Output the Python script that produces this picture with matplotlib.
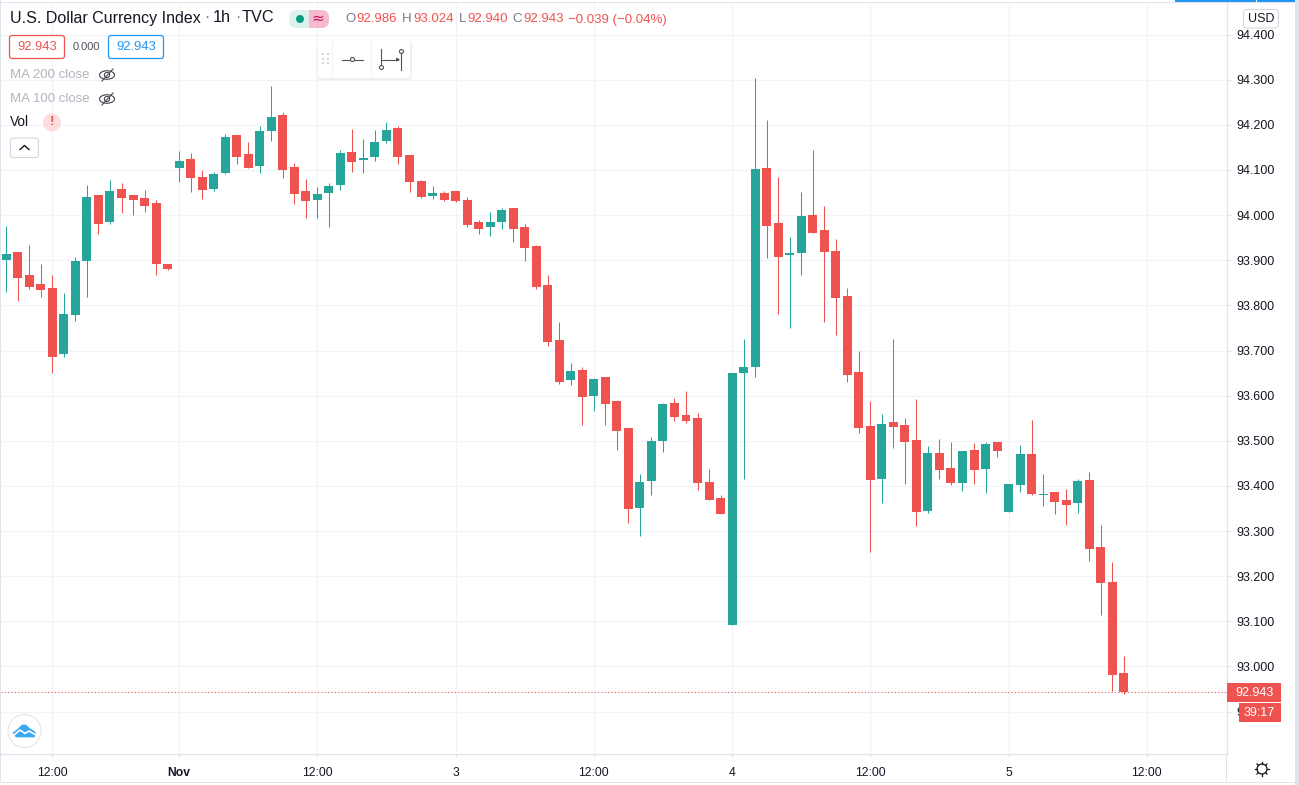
import matplotlib
matplotlib.use('Agg')
import matplotlib.pyplot as plt
from matplotlib.patches import Rectangle, FancyBboxPatch, Circle, Ellipse, Polygon

plt.rcParams['font.family'] = ['Liberation Sans', 'DejaVu Sans']

#%%
# hourly candles
opens = [93.900, 93.918, 93.867, 93.847, 93.838, 93.692, 93.778, 93.898, 94.044, 93.984,
         94.057, 94.044, 94.037, 94.026, 93.891, 94.104, 94.124, 94.084, 94.057, 94.093,
         94.177, 94.135, 94.108, 94.186, 94.222, 94.106, 94.053, 94.033, 94.048, 94.066,
         94.140, 94.122, 94.128, 94.164, 94.193, 94.133, 94.075, 94.042, 94.048, 94.053,
         94.033, 93.984, 93.973, 93.984, 94.015, 93.973, 93.931, 93.845, 93.723, 93.634,
         93.656, 93.599, 93.641, 93.588, 93.528, 93.351, 93.410, 93.499, 93.583, 93.557,
         93.550, 93.408, 93.373, 93.091, 93.650, 93.663, 94.104, 93.982, 93.911, 93.916,
         94.000, 93.967, 93.920, 93.820, 93.652, 93.532, 93.415, 93.541, 93.535, 93.501,
         93.344, 93.473, 93.439, 93.406, 93.479, 93.437, 93.497, 93.342, 93.402, 93.470,
         93.380, 93.386, 93.368, 93.362, 93.413, 93.264, 93.187, 92.986]
highs = [93.975, 93.918, 93.933, 93.891, 93.867, 93.827, 93.907, 94.066, 94.044, 94.077,
         94.071, 94.044, 94.055, 94.033, 93.891, 94.142, 94.137, 94.100, 94.095, 94.180,
         94.177, 94.162, 94.197, 94.286, 94.228, 94.115, 94.080, 94.062, 94.071, 94.144,
         94.191, 94.168, 94.188, 94.206, 94.197, 94.133, 94.077, 94.064, 94.053, 94.053,
         94.040, 93.989, 94.006, 94.015, 94.015, 93.980, 93.933, 93.867, 93.763, 93.672,
         93.663, 93.639, 93.641, 93.590, 93.528, 93.426, 93.508, 93.583, 93.594, 93.610,
         93.561, 93.437, 93.379, 93.650, 93.725, 94.304, 94.210, 94.084, 93.951, 94.051,
         94.144, 94.020, 93.947, 93.838, 93.698, 93.588, 93.559, 93.725, 93.550, 93.592,
         93.488, 93.504, 93.497, 93.477, 93.495, 93.497, 93.497, 93.404, 93.490, 93.546,
         93.426, 93.386, 93.393, 93.415, 93.430, 93.313, 93.231, 93.024]
lows = [93.829, 93.809, 93.836, 93.818, 93.650, 93.685, 93.765, 93.818, 93.958, 93.980,
        94.004, 94.000, 94.006, 93.867, 93.878, 94.073, 94.051, 94.035, 94.053, 94.091,
        94.113, 94.104, 94.093, 94.164, 94.082, 94.024, 93.993, 93.993, 93.973, 94.055,
        94.095, 94.093, 94.120, 94.160, 94.113, 94.051, 94.037, 94.035, 94.031, 94.029,
        93.973, 93.958, 93.953, 93.969, 93.940, 93.898, 93.836, 93.710, 93.625, 93.623,
        93.535, 93.566, 93.535, 93.479, 93.317, 93.289, 93.379, 93.475, 93.543, 93.539,
        93.391, 93.368, 93.337, 93.091, 93.415, 93.641, 93.905, 93.780, 93.749, 93.867,
        93.960, 93.763, 93.734, 93.630, 93.517, 93.253, 93.362, 93.484, 93.404, 93.311,
        93.340, 93.415, 93.402, 93.388, 93.404, 93.384, 93.464, 93.342, 93.386, 93.379,
        93.355, 93.337, 93.313, 93.340, 93.233, 93.114, 92.945, 92.940]
closes = [93.913, 93.860, 93.840, 93.834, 93.685, 93.780, 93.898, 94.040, 93.980, 94.053,
          94.037, 94.033, 94.020, 93.891, 93.880, 94.120, 94.082, 94.055, 94.091, 94.173,
          94.128, 94.104, 94.186, 94.217, 94.100, 94.046, 94.031, 94.046, 94.064, 94.137,
          94.117, 94.126, 94.162, 94.188, 94.128, 94.073, 94.040, 94.048, 94.033, 94.031,
          93.978, 93.969, 93.984, 94.011, 93.969, 93.927, 93.840, 93.718, 93.630, 93.654,
          93.596, 93.636, 93.581, 93.521, 93.348, 93.408, 93.499, 93.581, 93.552, 93.543,
          93.406, 93.368, 93.337, 93.650, 93.663, 94.102, 93.975, 93.907, 93.916, 93.998,
          93.960, 93.918, 93.816, 93.645, 93.528, 93.413, 93.537, 93.530, 93.497, 93.342,
          93.473, 93.435, 93.406, 93.477, 93.435, 93.492, 93.477, 93.404, 93.470, 93.382,
          93.382, 93.364, 93.357, 93.410, 93.260, 93.185, 92.981, 92.943]

price_ticks = [92.9, 93.0, 93.1, 93.2, 93.3, 93.4, 93.5, 93.6, 93.7, 93.8, 93.9, 94.0, 94.1, 94.2, 94.3, 94.4]
time_ticks = [4, 15, 27, 39, 51, 63, 75, 87, 99]
time_labels = ['12:00', 'Nov', '12:00', '3', '12:00', '4', '12:00', '5', '12:00']

UP = '#26A69A'
DOWN = '#EF5350'
GRID = '#F0F3FA'
EDGE = '#E0E3EB'
TEXT = '#131722'
FADED = '#B2B5BE'

W, H = 1299, 785
fig = plt.figure(figsize=(W / 100, H / 100), dpi=100)

#%%
'''price pane'''
ax = fig.add_axes([1 / W, (H - 754) / H, 1226 / W, 751 / H])
x = list(range(len(opens)))
colors = [UP if c >= o else DOWN for o, c in zip(opens, closes)]
ax.vlines(x, lows, highs, colors=colors, linewidth=0.75, zorder=3)
ax.bar(x, [abs(c - o) for o, c in zip(opens, closes)], bottom=[min(o, c) for o, c in zip(opens, closes)],
       width=0.78, color=colors, linewidth=0, zorder=4)
ax.axhline(closes[-1], color=DOWN, linewidth=0.8, linestyle=(0, (1, 2)), zorder=5)

ax.set_xlim(-0.46, 105.96)
ax.set_ylim(92.806, 94.470)
ax.set_yticks(price_ticks)
ax.set_yticklabels(['%.3f' % p for p in price_ticks])
ax.set_xticks(time_ticks)
ax.set_xticklabels(time_labels)
ax.get_xticklabels()[1].set_fontweight('bold')
ax.grid(True, color=GRID, linewidth=0.9, zorder=0)
ax.set_axisbelow(True)
ax.tick_params(axis='y', left=False, labelleft=False, right=True, labelright=True, length=3,
               color=EDGE, labelsize=9, labelcolor=TEXT, pad=3.8)
ax.tick_params(axis='x', length=2.5, color=EDGE, labelsize=8.7, labelcolor=TEXT, pad=7)
for side in ['top', 'left']:
    ax.spines[side].set_visible(False)
for side in ['right', 'bottom']:
    ax.spines[side].set_color(EDGE)
    ax.spines[side].set_linewidth(0.9)

#%%
'''chart furniture, in pixel coordinates of the screenshot'''
ui = fig.add_axes([0, 0, 1, 1], zorder=10)
ui.set_xlim(0, W)
ui.set_ylim(H, 0)
ui.axis('off')
ui.patch.set_alpha(0)


def rbox(x0, y0, w, h, edge='none', face='white', lw=0.8, r=2.5, z=6):
    ui.add_patch(FancyBboxPatch((x0 + r, y0 + r), w - 2 * r, h - 2 * r, boxstyle='round,pad=%f,rounding_size=%f' % (r, r),
                                ec=edge, fc=face, lw=lw, zorder=z))


def label(x0, y0, s, color=TEXT, size=9.2, ha='left', **kw):
    ui.text(x0, y0, s, color=color, fontsize=size, ha=ha, va='center', zorder=8, **kw)


def eye(cx, cy):
    ui.add_patch(Ellipse((cx, cy), 15, 8.5, fc='white', ec='#434651', lw=0.8, zorder=7))
    ui.add_patch(Circle((cx, cy), 2.6, fc='white', ec='#434651', lw=0.8, zorder=7))
    ui.plot([cx - 5, cx + 6], [cy + 6, cy - 6], color='#434651', lw=0.8, zorder=8)


# frame round the widget
ui.add_patch(Rectangle((1295, 0), 4, H, fc=EDGE, ec='none'))
ui.add_patch(Rectangle((0, 2), 1295, 1, fc=EDGE, ec='none'))
ui.add_patch(Rectangle((0, 0), 1.5, 782, fc=EDGE, ec='none'))
ui.add_patch(Rectangle((0, 781.5), 1295, 1, fc=EDGE, ec='none'))
ui.add_patch(Rectangle((1226.5, 754), 1, 28, fc=EDGE, ec='none'))
ui.add_patch(Rectangle((1175, 0), 81, 2.2, fc='#2196F3', ec='none'))
ui.add_patch(Rectangle((1257, 0), 38, 2.2, fc='#2196F3', ec='none'))

# header
label(10, 18, 'U.S. Dollar Currency Index', size=11.5)
label(204.5, 18, '·', color='#787B86', size=11.5)
label(213, 18, '1h', size=11.7)
label(235, 18, '·', color='#787B86', size=11.5)
label(242, 18, 'TVC', size=11.7)
rbox(289, 10, 40, 18, face='#DDF2EF', r=8)
ui.add_patch(Rectangle((309, 10), 12, 18, fc='#F7B9D0', ec='none', zorder=7))
rbox(312, 10, 17, 18, face='#F7B9D0', r=8, z=6.5)
ui.add_patch(Circle((300, 19), 4, fc='#089981', ec='none', zorder=8))
label(318, 18.5, '≈', color='#C2185B', size=11, ha='center', family=['DejaVu Sans'])

ohlc_names = ['O', 'H', 'L', 'C']
ohlc_name_x = [345, 402, 459, 512]
ohlc_val_x = [356.5, 413, 467, 523]
ohlc_vals = [opens[-1], highs[-1], lows[-1], closes[-1]]
for nx, vx, n, v in zip(ohlc_name_x, ohlc_val_x, ohlc_names, ohlc_vals):
    label(nx, 19.5, n, color='#787B86', size=9.5)
    label(vx, 19.5, '%.3f' % v, color=DOWN, size=9.5)
label(568, 19.5, '\u22120.039 (\u22120.04%)', color=DOWN, size=9.5)

# bid / ask row
rbox(9.5, 35.5, 55, 23, edge=DOWN, lw=0.9)
label(37, 47.5, '%.3f' % closes[-1], color=DOWN, ha='center', size=9.4)
label(86.5, 46.5, '0.000', color='#50535E', ha='center', size=8)
rbox(108.5, 35.5, 55, 23, edge='#2196F3', lw=0.9)
label(136, 47.5, '%.3f' % closes[-1], color='#2196F3', ha='center', size=9.4)

# study legend
label(10, 75, 'MA 200 close', color=FADED, size=9.5)
eye(107, 75)
label(10, 99, 'MA 100 close', color=FADED, size=9.5)
eye(107, 99)
label(10, 122.5, 'Vol', size=9.8)
ui.add_patch(Circle((52, 122.5), 9, fc='#FBDDDD', ec='none', zorder=6))
label(52, 122, '!', color=DOWN, ha='center', size=9.5, fontweight='bold')
rbox(10.5, 138, 28, 19.5, edge='#D6D8E0', lw=0.8)
ui.plot([20, 24.5, 29], [149.5, 145.5, 149.5], color=TEXT, lw=1, zorder=8)

# floating line tool bar
rbox(316.5, 41, 95.5, 39, face='#EEF0F4', r=4, z=5)
rbox(318, 40, 92, 38, r=3)
ui.plot([332.5, 332.5], [40, 78], color=GRID, lw=0.8, zorder=7)
ui.plot([371.5, 371.5], [40, 78], color=GRID, lw=0.8, zorder=7)
for dx in [322.5, 327]:
    for dy in [53, 57.5, 62]:
        ui.add_patch(Rectangle((dx, dy), 2, 2, fc='#D6D8E0', ec='none', zorder=8))
ui.plot([342, 363], [59.5, 59.5], color='#50535E', lw=0.8, zorder=7)
ui.add_patch(Circle((352.5, 59.5), 2, fc='white', ec='#50535E', lw=0.8, zorder=8))
ui.plot([381.5, 381.5], [49, 66], color='#50535E', lw=0.8, zorder=7)
ui.plot([401.5, 401.5], [54, 70], color='#50535E', lw=0.8, zorder=7)
ui.plot([381.5, 398], [59.5, 59.5], color='#50535E', lw=0.8, zorder=7)
ui.add_patch(Polygon([[400, 59.5], [396, 57.5], [396, 61.5]], fc='#50535E', ec='none', zorder=8))
ui.add_patch(Circle((381.5, 67.5), 2, fc='white', ec='#50535E', lw=0.8, zorder=8))
ui.add_patch(Circle((401.5, 51.5), 2, fc='white', ec='#50535E', lw=0.8, zorder=8))

# currency button and last price tags
rbox(1243.5, 9.5, 35, 18.5, edge='#D6D8E0', lw=0.8, r=3.5)
label(1261, 19, 'USD', ha='center', size=9)
ui.add_patch(Rectangle((1227, 683), 54, 19, fc=DOWN, ec='none', zorder=7))
ui.add_patch(Rectangle((1239, 703), 42, 19, fc=DOWN, ec='none', zorder=7))
label(1255, 693, '%.3f' % closes[-1], color='white', ha='center', size=9)
label(1259, 713, '39:17', color='white', ha='center', size=9)

# gear in the corner
ui.add_patch(Circle((1262, 769), 5, fc='white', ec=TEXT, lw=0.9, zorder=7))
for a, b, c, d in [(1262, 762, 1262, 764), (1262, 774, 1262, 776), (1255, 769, 1257, 769), (1267, 769, 1269, 769),
                   (1257, 764, 1258.5, 765.5), (1265.5, 772.5, 1267, 774), (1257, 774, 1258.5, 772.5), (1265.5, 765.5, 1267, 764)]:
    ui.plot([a, c], [b, d], color=TEXT, lw=0.9, zorder=7)

# logo
ui.add_patch(Circle((24.5, 731), 16.5, fc='white', ec='#E4E5E8', lw=0.8, zorder=6))
ui.add_patch(Polygon([[13, 733], [18, 729], [22, 725], [26, 725], [30, 729], [34, 731], [36, 734], [34, 737], [16, 737]],
                     fc='#3BA9EE', ec='#3BA9EE', lw=0.5, joinstyle='round', zorder=7))
ui.plot([14, 20, 25, 29, 36], [735, 730, 733.5, 731, 735], color='white', lw=1.2, zorder=8)

fig.savefig('out.png', dpi=100)
